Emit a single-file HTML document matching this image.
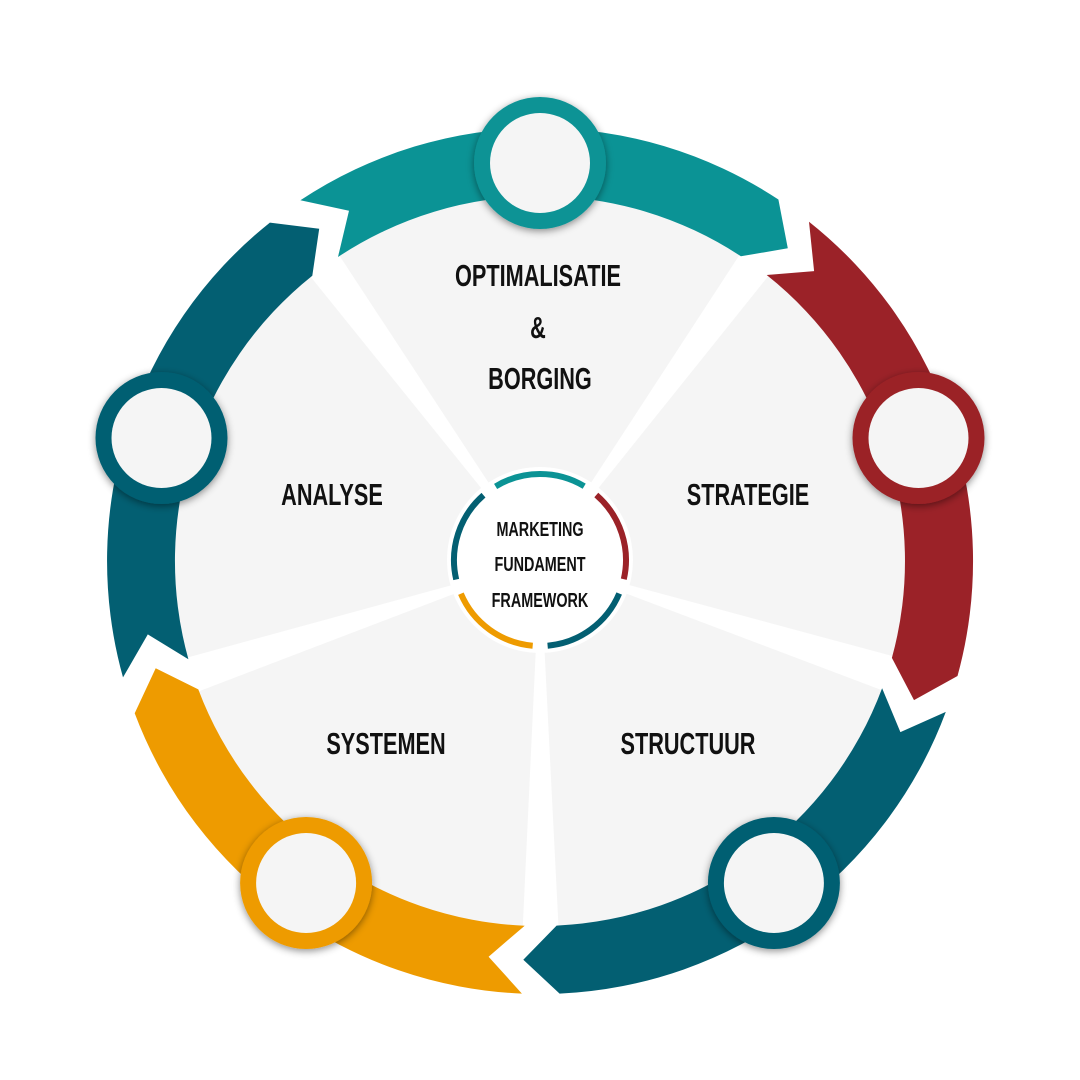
<!DOCTYPE html>
<html><head><meta charset="utf-8"><style>
html,body{margin:0;padding:0;background:#fff;}
svg{display:block}
text{font-family:"Liberation Sans Narrow","Liberation Sans",sans-serif;font-weight:bold;fill:#111;text-anchor:middle}
</style></head><body>
<svg id="s" width="1080" height="1080" viewBox="0 0 1080 1080" xmlns="http://www.w3.org/2000/svg">
<defs>
<filter id="sh" x="-30%" y="-30%" width="160%" height="160%"><feDropShadow dx="0" dy="2" stdDeviation="4" flood-color="#000" flood-opacity="0.45"/></filter>
</defs>
<g id="g"></g>
<g>
<text x="538" y="286" font-size="31" transform="translate(538 0) scale(0.7 1) translate(-538 0)">OPTIMALISATIE</text>
<text x="538" y="338" font-size="31" transform="translate(538 0) scale(0.7 1) translate(-538 0)">&amp;</text>
<text x="540" y="389" font-size="31" transform="translate(540 0) scale(0.7 1) translate(-540 0)">BORGING</text>
<text x="332" y="505" font-size="31" transform="translate(332 0) scale(0.7 1) translate(-332 0)">ANALYSE</text>
<text x="748" y="505" font-size="31" transform="translate(748 0) scale(0.7 1) translate(-748 0)">STRATEGIE</text>
<text x="386" y="754" font-size="31" transform="translate(386 0) scale(0.7 1) translate(-386 0)">SYSTEMEN</text>
<text x="688" y="754" font-size="31" transform="translate(688 0) scale(0.7 1) translate(-688 0)">STRUCTUUR</text>
<text x="540" y="536" font-size="20" transform="translate(540 0) scale(0.72 1) translate(-540 0)">MARKETING</text>
<text x="540" y="571" font-size="20" transform="translate(540 0) scale(0.72 1) translate(-540 0)">FUNDAMENT</text>
<text x="540" y="607" font-size="20" transform="translate(540 0) scale(0.72 1) translate(-540 0)">FRAMEWORK</text>
</g>
</svg>
<script>
(function(){
var cx=540,cy=561,NS="http://www.w3.org/2000/svg",g=document.getElementById('g');
function P(r,t){t=t*Math.PI/180;return [(cx+r*Math.sin(t)).toFixed(1),(cy-r*Math.cos(t)).toFixed(1)];}
function add(tag,attrs){var e=document.createElementNS(NS,tag);for(var k in attrs)e.setAttribute(k,attrs[k]);g.appendChild(e);return e;}
var TEAL="#0b9395",RED="#9b2228",DT="#035f72",OR="#ee9b00";
add('circle',{cx:cx,cy:cy,r:368,fill:'#f5f5f5'});
for(var k=0;k<5;k++){var e=38.4+72*k-5;var a=P(372,e-0.3),b=P(372,e+5.3);
 add('path',{d:'M'+cx+' '+cy+'L'+a+'L'+b+'Z',fill:'#fff'});}
var segc=[RED,DT,OR,DT,TEAL];
for(var k=0;k<5;k++){var s=38.4+72*k,e=s+67;
 var o1=P(433,s),o2=P(433,e),tp=P(399,e+5),i2=P(365,e),i1=P(365,s),n=P(399,s+5);
 add('path',{d:'M'+o1+'A433 433 0 0 1 '+o2+'L'+tp+'L'+i2+'A365 365 0 0 0 '+i1+'L'+n+'Z',fill:segc[k]});}
var cc=[TEAL,RED,DT,OR,DT];
for(var k=0;k<5;k++){var p=P(398,72*k);
 add('circle',{cx:p[0],cy:p[1],r:66,fill:cc[k],filter:'url(#sh)'});
 add('circle',{cx:p[0],cy:p[1],r:50,fill:'#f5f5f5'});}
add('circle',{cx:cx,cy:cy-1,r:93,fill:'#fff'});
var ac=[RED,DT,OR,DT,TEAL];
for(var k=0;k<5;k++){var b=35.9+72*k;var a1=b+5,a2=b+67;
 var r=86,q1=P(r,a1),q2=P(r,a2);q1[1]=(q1[1]-1).toFixed(1);q2[1]=(q2[1]-1).toFixed(1);
 add('path',{d:'M'+q1+'A'+r+' '+r+' 0 0 1 '+q2,fill:'none',stroke:ac[k],'stroke-width':6});}
})();
</script>
</body></html>
